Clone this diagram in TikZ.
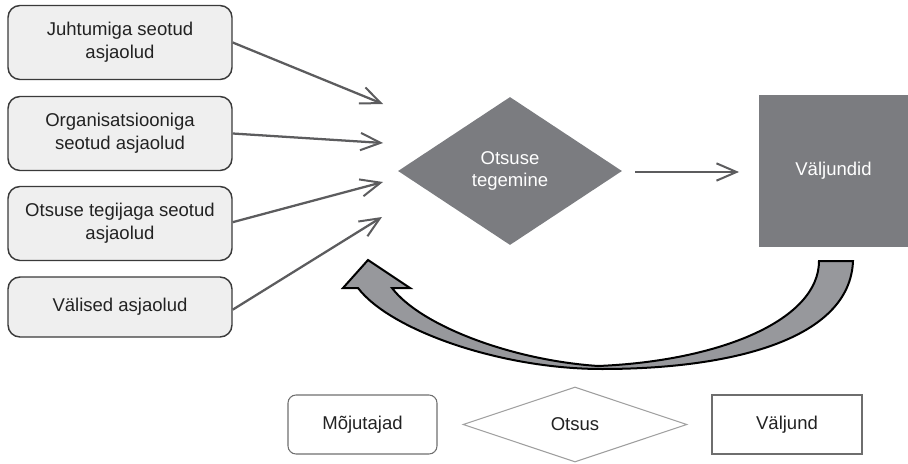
\documentclass[tikz,border=0pt]{standalone}
\usepackage{fontspec}
\setmainfont{Liberation Sans}
\usetikzlibrary{shapes.geometric,arrows.meta}
\definecolor{boxfill}{HTML}{EFEFEF}
\definecolor{boxline}{HTML}{3A3A3A}
\definecolor{arrowgray}{HTML}{5C5C5E}
\definecolor{darkshape}{HTML}{7B7C80}
\definecolor{curvefill}{HTML}{97989C}
\definecolor{legendline}{HTML}{6E6E6E}
\definecolor{legenddiam}{HTML}{A0A0A0}
\definecolor{txt}{HTML}{222222}
\tikzset{
  factor/.style={draw=boxline, line width=1.1pt, fill=boxfill, rounded corners=9pt,
    minimum width=168pt, inner sep=0pt, align=center, text=txt,
    font=\fontsize{13.9pt}{17pt}\selectfont},
  influence/.style={draw=arrowgray, line width=1.7pt,
    -{Straight Barb[length=15pt,width=13pt,line width=1.5pt]}},
  darkdiamond/.style={diamond, fill=darkshape, minimum width=168pt, minimum height=111pt,
    inner sep=0pt, align=center, text=white, font=\fontsize{13.9pt}{17pt}\selectfont},
  darksquare/.style={rectangle, fill=darkshape, minimum width=111.75pt, minimum height=114pt,
    inner sep=0pt, text=white, font=\fontsize{13.9pt}{17pt}\selectfont},
  legend/.style={draw=legendline, line width=0.8pt, inner sep=0pt, text=txt,
    minimum height=44.25pt, font=\fontsize{13.9pt}{17pt}\selectfont},
  feedback/.style={draw=black, line width=1.5pt, fill=curvefill, line join=miter}
}
\begin{document}
\begin{tikzpicture}[x=0.75pt, y=-0.75pt]
\useasboundingbox (0,0) rectangle (908,464);

% factor boxes
\node[factor, minimum height=55.5pt] (b1) at (120,42.5) {Juhtumiga seotud\\asjaolud};
\node[factor, minimum height=55.5pt] (b2) at (120,133.5) {Organisatsiooniga\\seotud asjaolud};
\node[factor, minimum height=55.5pt] (b3) at (120,223.5) {Otsuse tegijaga seotud\\asjaolud};
\node[factor, minimum height=45pt] (b4) at (120,307) {Välised asjaolud};

% arrow tips
\coordinate (t1) at (383,104);
\coordinate (t2) at (383,143);
\coordinate (t3) at (383,182);
\coordinate (t4) at (382,217);

\draw[influence] (b1.east) -- (t1);
\draw[influence] (b2.east) -- (t2);
\draw[influence] ([yshift=1pt]b3.east) -- (t3);
\draw[influence] ([yshift=-2pt]b4.east) -- (t4);

% decision and outcome
\node[darkdiamond] (dec) at (510,171) {Otsuse\\tegemine};
\node[darksquare] (out) at (833.5,171) {Väljundid};
\coordinate (mid1) at (635,172);
\coordinate (mid2) at (739,172);
\draw[influence] (mid1) -- (mid2);

% feedback curved arrow
\draw[feedback]
  (853,261) .. controls (850,340) and (730,369) .. (602,369)
  .. controls (500,369) and (390,330) .. (358,288)
  -- (343,288) -- (368,260) -- (410,288) -- (392,288)
  .. controls (420,325) and (510,360) .. (598,366)
  .. controls (720,361) and (819,320) .. (819,261)
  -- cycle;

% legend
\node[legend, rounded corners=6pt, minimum width=111.75pt] (lg1) at (362.5,424.5) {Mõjutajad};
\node[legend, diamond, minimum width=168pt, minimum height=56.25pt, draw=legenddiam] (lg2) at (575,424.5) {Otsus};
\node[legend, minimum width=112.5pt] (lg3) at (787,424.5) {Väljund};
\end{tikzpicture}
\end{document}
